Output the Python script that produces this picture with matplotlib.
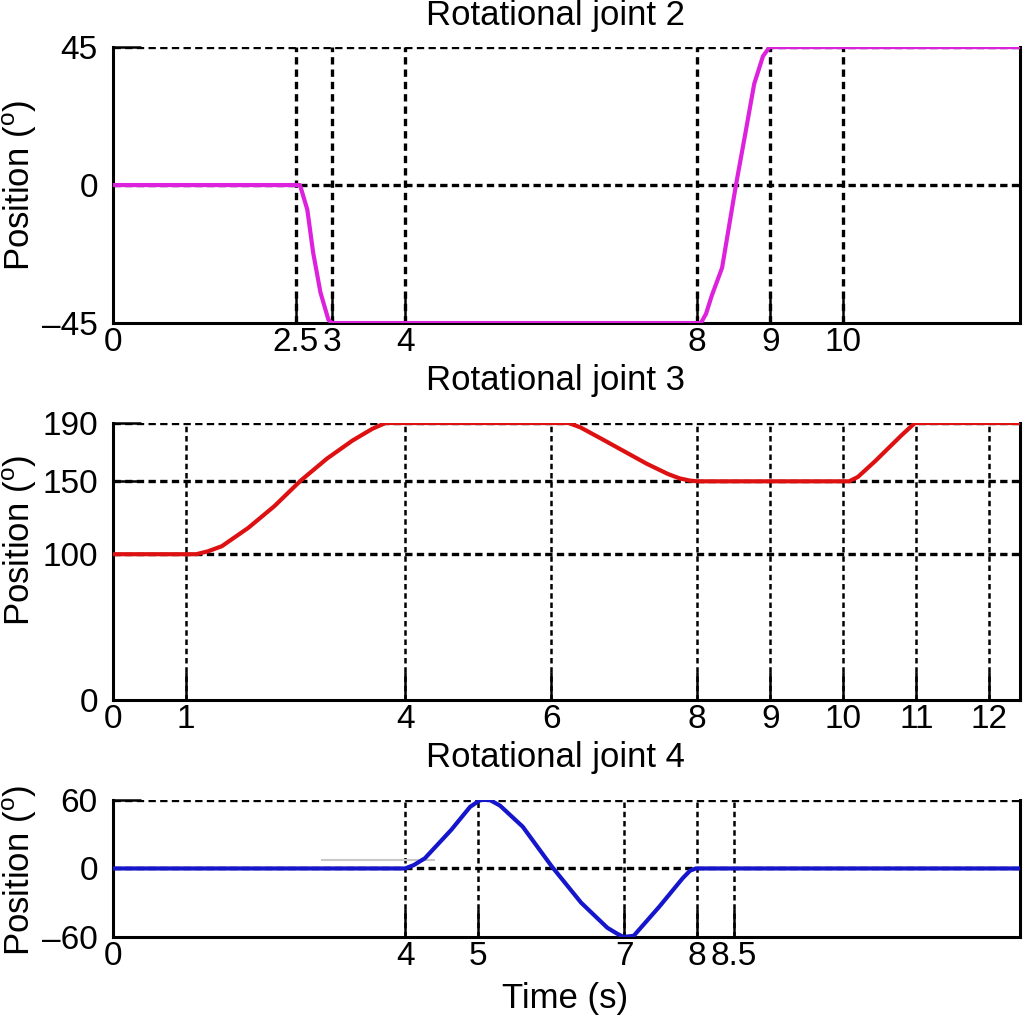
import numpy as np
import matplotlib.pyplot as plt

plt.rcParams['font.family'] = ['Liberation Sans', 'DejaVu Sans']
plt.rcParams['mathtext.fontset'] = 'custom'
plt.rcParams['mathtext.rm'] = 'Liberation Sans'

# joint 2 (magenta)
j2_t = [0, 2.56, 2.66, 2.74, 2.84, 2.95, 3.0, 8.05, 8.12, 8.2, 8.34, 8.53, 8.66, 8.78, 8.9, 8.99, 12.45]
j2_pos = [0, 0, -8, -22, -35, -44, -45, -45, -42, -36, -27, 0, 17, 33, 42, 45, 45]
j2_xticks = [0, 2.5, 3, 4, 8, 9, 10]
j2_yticks = [-45, 0, 45]

# joint 3 (red)
j3_t = [0, 1.0, 1.14, 1.3, 1.49, 1.85, 2.21, 2.57, 2.93, 3.28, 3.55, 3.73, 6.24, 6.4, 6.68, 7.31, 7.6, 7.76,
        7.9, 8.0, 10.08, 10.2, 10.44, 10.8, 10.98, 12.45]
j3_pos = [100, 100, 100, 102, 105.5, 118, 133, 150.5, 165.6, 178, 186, 190, 190, 187, 179.4, 162, 155, 152,
          150.5, 150, 150, 153, 164, 181.7, 190, 190]
j3_xticks = [0, 1, 4, 6, 8, 9, 10, 11, 12]
j3_yticks = [0, 100, 150, 190]

# joint 4 (blue)
j4_t = [0, 4.0, 4.12, 4.27, 4.63, 4.89, 5.03, 5.16, 5.3, 5.61, 6.01, 6.41, 6.77, 6.9, 6.99, 7.13, 7.48, 7.8,
        7.9, 7.98, 12.45]
j4_pos = [0, 0, 3, 8.9, 33.7, 54, 60, 60, 55, 36.6, 1.6, -30, -52, -57, -60, -59, -33.5, -8.6, -2, 0, 0]
j4_xticks = [0, 4, 5, 7, 8, 8.5]
j4_yticks = [-60, 0, 60]

# stray grey mark in joint 4 panel
stray_t = [2.86, 4.4]
stray_pos = [7, 7]

fig = plt.figure(figsize=(10.24, 10.21), dpi=100)

panels = [
    ([0.1104, 0.6836, 0.8857, 0.2703], j2_t, j2_pos, '#DD22DD', j2_xticks, j2_yticks, (-45, 45),
     'Rotational joint 2', 185),
    ([0.1104, 0.3144, 0.8857, 0.2713], j3_t, j3_pos, '#DD1111', j3_xticks, j3_yticks, (0, 190),
     'Rotational joint 3', 540),
    ([0.1104, 0.0823, 0.8857, 0.1342], j4_t, j4_pos, '#1515CC', j4_xticks, j4_yticks, (-60, 60),
     'Rotational joint 4', 870),
]

title_y = [15, 380, 758]

for i, (rect, t, pos, col, xt, yt, ylim, title, ylab_y) in enumerate(panels):
    ax = fig.add_axes(rect)
    ax.set_xlim(0, 12.42)
    ax.set_ylim(*ylim)
    ax.set_xticks(xt)
    ax.set_xticklabels([('%g' % v) for v in xt])
    ax.set_yticks(yt)
    ax.set_yticklabels([('%g' % v).replace('-', '\u2013') for v in yt])
    # dashed guide lines at the ticks (not on the spines)
    xlw = 2.4 if i == 0 else 1.8
    for v in xt:
        if v != 0:
            ax.axvline(v, color='black', linestyle=(0, (2.2, 1.5)), linewidth=xlw, zorder=1)
    for v in yt:
        if v != ylim[0]:
            ax.axhline(v, color='black', linestyle=(0, (2.2, 1.3)), linewidth=2.4, zorder=1)
    ax.plot(t, pos, color=col, linewidth=3.0, solid_capstyle='butt', solid_joinstyle='round', zorder=3)
    if i == 2:
        ax.plot(stray_t, stray_pos, color='#C8C8C8', linewidth=1.5, zorder=2)
    ax.spines['top'].set_visible(False)
    for s in ['left', 'bottom', 'right']:
        ax.spines[s].set_linewidth(2.2)
    ax.tick_params(axis='both', direction='in', length=20, width=1.8, labelsize=24, colors='black')
    ax.tick_params(axis='x', pad=3)
    ax.tick_params(axis='y', pad=11)
    fig.text(20 / 1024, 1 - ylab_y / 1021, r'Position ($^\mathrm{o}$)', fontsize=25, rotation=90,
             ha='center', va='center')
    fig.text(555 / 1024, 1 - title_y[i] / 1021, title, fontsize=25, ha='center', va='center')

fig.text(565 / 1024, 1 - 998 / 1021, 'Time (s)', fontsize=25, ha='center', va='center')

fig.savefig('out.png', dpi=100)
